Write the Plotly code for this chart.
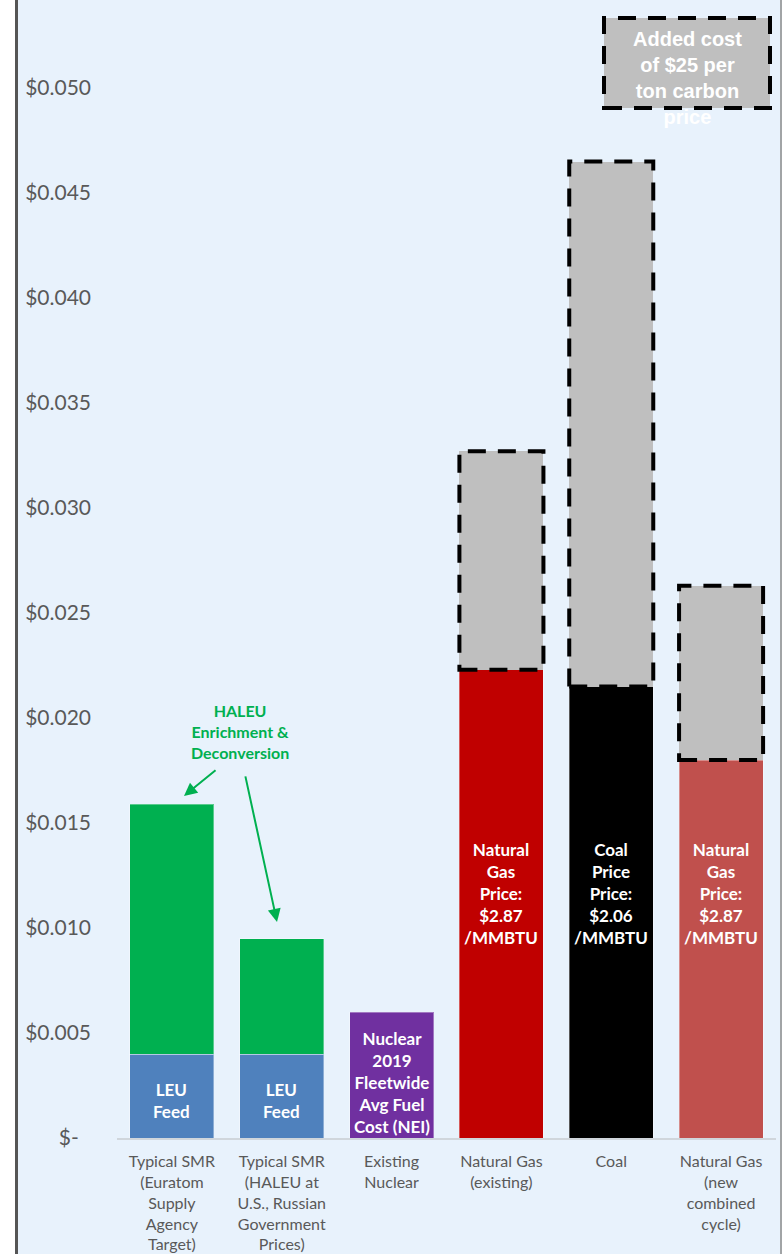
import plotly.graph_objects as go

categories = [
    "Typical SMR<br>(Euratom<br>Supply<br>Agency<br>Target)",
    "Typical SMR<br>(HALEU at<br>U.S., Russian<br>Government<br>Prices)",
    "Existing<br>Nuclear",
    "Natural Gas<br>(existing)",
    "Coal",
    "Natural Gas<br>(new<br>combined<br>cycle)",
]
leu_feed = [0.0040, 0.0040, None, None, None, None]
haleu_enrich = [0.0119, 0.0055, None, None, None, None]
existing_nuclear = [None, None, 0.0060, None, None, None]
fossil_fuel = [None, None, None, 0.0223, 0.0215, 0.0180]
carbon_cost = [None, None, None, 0.0104, 0.0250, 0.0083]

fuel_labels = [
    None, None, None,
    "Natural<br>Gas<br>Price:<br>$2.87<br>/MMBTU",
    "Coal<br>Price<br>Price:<br>$2.06<br>/MMBTU",
    "Natural<br>Gas<br>Price:<br>$2.87<br>/MMBTU",
]

tick_vals = [0, 0.005, 0.010, 0.015, 0.020, 0.025, 0.030, 0.035, 0.040, 0.045, 0.050]
tick_text = ["$-\u2007", "$0.005", "$0.010", "$0.015", "$0.020", "$0.025",
             "$0.030", "$0.035", "$0.040", "$0.045", "$0.050"]

BG = "#e8f2fc"
GRAY_TXT = "#595959"
bar_w = 0.765
edge = dict(width=1, color="rgba(255,255,255,0.35)")

fig = go.Figure()
fig.add_trace(go.Bar(x=categories, y=leu_feed, marker=dict(color="#4f81bd", line=edge), width=bar_w))
fig.add_trace(go.Bar(x=categories, y=haleu_enrich, marker=dict(color="#00b050", line=edge), width=bar_w))
fig.add_trace(go.Bar(x=categories, y=existing_nuclear, marker=dict(color="#7030a0", line=edge), width=bar_w))
fig.add_trace(go.Bar(x=categories, y=fossil_fuel,
                     marker=dict(color=["#c00000"] * 3 + ["#c00000", "#000000", "#c0504d"], line=edge),
                     width=bar_w))
fig.add_trace(go.Bar(x=categories, y=carbon_cost, marker=dict(color="#bfbfbf", line=dict(width=0)), width=bar_w))

shapes = []
# dashed outlines around carbon cost segments
for i, (f, c) in enumerate(zip(fossil_fuel, carbon_cost)):
    if f is None or c is None:
        continue
    shapes.append(dict(type="rect", xref="x", yref="y",
                       x0=i - bar_w / 2, x1=i + bar_w / 2, y0=f, y1=f + c,
                       line=dict(color="black", width=4, dash="18px,12px"),
                       fillcolor="rgba(0,0,0,0)", layer="above"))

def px_x(p):
    return (p - 117) / 659.0

def px_y(p):
    return (1138 - p) / 1138.0

# white page margin and frame
shapes.append(dict(type="rect", xref="paper", yref="paper", x0=px_x(-5), x1=px_x(15),
                   y0=px_y(1260), y1=px_y(-5), fillcolor="white", line=dict(width=0), layer="below"))
shapes.append(dict(type="line", xref="paper", yref="paper", x0=px_x(16.5), x1=px_x(16.5),
                   y0=px_y(1260), y1=px_y(-5), line=dict(color="#555555", width=3)))
shapes.append(dict(type="line", xref="paper", yref="paper", x0=px_x(781), x1=px_x(781),
                   y0=px_y(1260), y1=px_y(-5), line=dict(color="#8a8a8a", width=1.5)))
# carbon legend box
shapes.append(dict(type="rect", xref="paper", yref="paper", x0=px_x(604), x1=px_x(770),
                   y0=px_y(108), y1=px_y(18), fillcolor="#bfbfbf",
                   line=dict(color="black", width=4, dash="18px,12px")))

lbl_font = dict(family="Lato", size=17, color="white")
annotations = []
# LEU feed labels
for i, v in enumerate(leu_feed):
    if v is not None:
        annotations.append(dict(x=i, y=v / 2 - 0.0002, xref="x", yref="y", text="<b>LEU<br>Feed</b>",
                                showarrow=False, font=lbl_font))
# existing nuclear label
annotations.append(dict(x=2, y=existing_nuclear[2] / 2 - 0.00035, xref="x", yref="y",
                        text="<b>Nuclear<br>2019<br>Fleetwide<br>Avg Fuel<br>Cost (NEI)</b>",
                        showarrow=False, font=lbl_font))
# fossil fuel price labels
for i, t in enumerate(fuel_labels):
    if t is not None:
        annotations.append(dict(x=i, y=0.01165, xref="x", yref="y", text="<b>" + t + "</b>",
                                showarrow=False, font=lbl_font))
# HALEU label
annotations.append(dict(x=0.62, y=0.01938, xref="x", yref="y",
                        text="<b>HALEU<br>Enrichment &<br>Deconversion</b>",
                        showarrow=False, font=dict(family="Lato", size=16, color="#00b050")))
# arrows
annotations.append(dict(x=0.110, y=0.01629, ax=0.411, ay=0.01757, xref="x", yref="y",
                        axref="x", ayref="y", text="", showarrow=True, arrowhead=2,
                        arrowsize=1.3, arrowwidth=2, arrowcolor="#00b050"))
annotations.append(dict(x=0.957, y=0.01029, ax=0.666, ay=0.01729, xref="x", yref="y",
                        axref="x", ayref="y", text="", showarrow=True, arrowhead=2,
                        arrowsize=1.3, arrowwidth=2, arrowcolor="#00b050"))
# carbon legend text
annotations.append(dict(x=px_x(687), y=px_y(78), xref="paper", yref="paper",
                        xanchor="center", yanchor="middle",
                        text="<b>Added cost<br>of $25 per<br>ton carbon<br>price</b>",
                        showarrow=False, font=dict(family="Liberation Sans, Arial", size=20, color="white")))

fig.update_layout(
    width=782, height=1254,
    margin=dict(l=117, r=6, t=0, b=116),
    paper_bgcolor=BG, plot_bgcolor=BG,
    barmode="stack", bargap=0.235, showlegend=False,
    font=dict(family="Lato", color=GRAY_TXT),
    shapes=shapes, annotations=annotations,
    xaxis=dict(type="category", range=[-0.5, 5.5], showline=True, linecolor="#d0d6dc",
               linewidth=2, showgrid=False, ticks="", tickfont=dict(size=16, color=GRAY_TXT),
               ticklabelstandoff=8),
    yaxis=dict(range=[0, 1138 / 21000], tickvals=tick_vals, ticktext=tick_text,
               showgrid=False, zeroline=False, showline=False, ticks="",
               tickfont=dict(size=21, color=GRAY_TXT), ticklabelstandoff=25),
)

fig.write_html("out.html")
